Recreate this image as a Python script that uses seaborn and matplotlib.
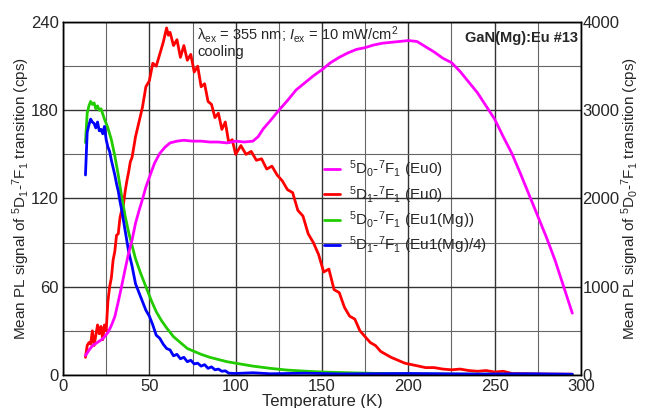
import seaborn as sns
import matplotlib.pyplot as plt
from matplotlib.ticker import MultipleLocator

# temperature (K) and signals
t_mag = [13, 15, 17, 20, 23, 26, 28, 30, 32, 34, 36, 38, 40, 42, 44, 46, 48, 50, 53, 56,
         59, 62, 66, 70, 75, 80, 85, 90, 95, 100, 105, 110, 113, 116, 120, 125, 130, 135,
         140, 145, 150, 155, 160, 165, 170, 175, 180, 185, 190, 195, 200, 205, 210, 215,
         220, 225, 230, 235, 240, 245, 250, 255, 260, 265, 270, 275, 280, 285, 290, 295]
mag_vals = [220, 280, 330, 370, 410, 480, 560, 660, 830, 1010, 1200, 1380, 1530, 1720,
            1860, 1990, 2130, 2240, 2400, 2510, 2580, 2630, 2650, 2660, 2650, 2650, 2640,
            2640, 2630, 2650, 2640, 2650, 2700, 2790, 2880, 3000, 3110, 3230, 3310, 3390,
            3460, 3540, 3600, 3650, 3690, 3710, 3740, 3760, 3770, 3780, 3790, 3780, 3720,
            3660, 3590, 3540, 3440, 3320, 3200, 3050, 2900, 2700, 2510, 2280, 2040, 1800,
            1560, 1300, 1000, 700]

t_red = [13, 14, 15, 16, 17, 18, 19, 20, 21, 22, 23, 24, 25, 26, 27, 28, 29, 30, 31, 32,
         33, 34, 35, 36, 37, 38, 39, 40, 42, 44, 46, 48, 50, 52, 54, 56, 58, 60, 61, 62,
         64, 66, 68, 70, 72, 74, 76, 78, 80, 82, 84, 86, 88, 90, 92, 94, 96, 98, 100, 103,
         106, 109, 112, 115, 118, 121, 124, 127, 130, 133, 136, 139, 142, 145, 148, 151,
         154, 157, 160, 163, 166, 169, 172, 175, 178, 181, 184, 187, 190, 194, 198, 202,
         206, 210, 215, 220, 225, 230, 235, 240, 245, 250, 255, 260, 270, 280, 295]
red_vals = [12, 20, 22, 21, 30, 20, 27, 34, 28, 33, 24, 34, 30, 50, 60, 66, 78, 84, 95, 96,
            107, 112, 116, 125, 132, 138, 145, 148, 162, 172, 182, 196, 200, 212, 210, 218,
            226, 236, 231, 233, 224, 228, 216, 224, 214, 218, 206, 210, 196, 198, 186, 184,
            175, 178, 167, 172, 158, 160, 150, 156, 150, 152, 146, 147, 140, 142, 136, 132,
            126, 124, 112, 108, 96, 90, 82, 70, 72, 58, 56, 46, 40, 38, 30, 26, 22, 20, 16,
            14, 12, 10, 8, 7, 6, 5, 5, 4, 3.5, 4, 3, 2.5, 3, 2, 2.5, 1, 0.8, 0.6, 0.5]

t_green = [13, 14, 15, 16, 17, 18, 19, 20, 21, 22, 24, 26, 28, 30, 32, 34, 36, 38, 40, 42,
           45, 48, 51, 54, 57, 60, 64, 68, 72, 76, 80, 85, 90, 95, 100, 110, 120, 130, 140,
           150, 165, 180, 200, 225, 250, 275, 295]
green_vals = [158, 178, 183, 186, 184, 185, 181, 183, 180, 181, 174, 168, 160, 149, 136,
              121, 108, 97, 88, 79, 69, 60, 51, 43, 37, 32, 26, 22, 18, 16, 14, 12, 10.5,
              9, 8, 6, 4.5, 3.3, 2.6, 2.0, 1.5, 1.1, 0.8, 0.6, 0.5, 0.4, 0.3]

t_blue = [13, 14, 15, 16, 17, 18, 19, 20, 21, 22, 23, 24, 25, 26, 27, 28, 29, 30, 31, 32,
          33, 34, 35, 36, 37, 38, 40, 42, 44, 46, 48, 50, 52, 54, 56, 58, 60, 62, 64, 66,
          68, 70, 72, 74, 76, 78, 80, 82, 84, 86, 88, 90, 92, 94, 96, 100, 110, 120, 140,
          160, 200, 240, 270, 295]
blue_vals = [136, 165, 170, 174, 172, 171, 168, 172, 166, 167, 164, 169, 160, 155, 152,
             146, 141, 136, 130, 125, 118, 112, 105, 98, 91, 84, 74, 62, 56, 50, 44, 40,
             34, 27, 25, 21, 18, 17, 13, 14, 11, 12, 9, 10, 7.5, 8, 6, 7, 4.5, 5.5, 3.5, 4,
             2.5, 2.8, 1.2, 1.0, 1.5, 0.8, 1.2, 0.7, 1.0, 0.6, 0.8, 0.5]

labels = [r'$^\mathregular{5}$D$_\mathregular{0}$-$^\mathregular{7}$F$_\mathregular{1}$ (Eu0)',
          r'$^\mathregular{5}$D$_\mathregular{1}$-$^\mathregular{7}$F$_\mathregular{1}$ (Eu0)',
          r'$^\mathregular{5}$D$_\mathregular{0}$-$^\mathregular{7}$F$_\mathregular{1}$ (Eu1(Mg))',
          r'$^\mathregular{5}$D$_\mathregular{1}$-$^\mathregular{7}$F$_\mathregular{1}$ (Eu1(Mg)/4)']

sns.set_style('white')
plt.rcParams['font.family'] = ['Liberation Sans', 'DejaVu Sans']
plt.rcParams['mathtext.fontset'] = 'custom'
plt.rcParams['mathtext.rm'] = 'Liberation Sans'
plt.rcParams['mathtext.it'] = 'Liberation Sans:italic'

fig = plt.figure(figsize=(6.45, 4.08), dpi=100)
ax = fig.add_axes([0.0977, 0.081, 0.803, 0.865])
ax2 = ax.twinx()

lw = 2.0
sns.lineplot(x=t_red, y=red_vals, ax=ax, color='#ff0000', lw=lw, label=labels[1])
sns.lineplot(x=t_green, y=green_vals, ax=ax, color='#22cc00', lw=lw, label=labels[2])
sns.lineplot(x=t_blue, y=blue_vals, ax=ax, color='#0000ff', lw=lw, label=labels[3])
sns.lineplot(x=t_mag, y=mag_vals, ax=ax2, color='#ff00ff', lw=lw, label=labels[0])

ax.set_xlim(0, 300)
ax.set_ylim(0, 240)
ax2.set_ylim(0, 4000)
ax.xaxis.set_major_locator(MultipleLocator(50))
ax.xaxis.set_minor_locator(MultipleLocator(25))
ax.yaxis.set_major_locator(MultipleLocator(60))
ax.yaxis.set_minor_locator(MultipleLocator(30))
ax2.yaxis.set_major_locator(MultipleLocator(1000))
ax2.yaxis.set_minor_locator(MultipleLocator(500))

# grid: darker on labelled values
ax.grid(True, which='major', color='#333333', lw=1.0)
ax.grid(True, which='minor', color='#666666', lw=0.8)
ax.set_axisbelow(True)
for a in (ax, ax2):
    for s in a.spines.values():
        s.set_color('black')
        s.set_linewidth(1.0)
ax.tick_params(which='both', length=0, labelsize=12, pad=3)
ax2.tick_params(which='both', length=0, labelsize=12, pad=1)

ax.set_xlabel('Temperature (K)', fontsize=12, labelpad=0)
ax.set_ylabel(r'Mean PL signal of $^\mathregular{5}$D$_\mathregular{1}$-$^\mathregular{7}$F$_\mathregular{1}$ transition (cps)', fontsize=11)
ax2.set_ylabel(r'Mean PL signal of $^\mathregular{5}$D$_\mathregular{0}$-$^\mathregular{7}$F$_\mathregular{1}$ transition (cps)', fontsize=11)
ax.yaxis.set_label_coords(-0.06, 0.5)
ax2.yaxis.set_label_coords(1.075, 0.5)

ax.text(0.259, 0.995, r'λ$_\mathregular{ex}$ = 355 nm; $I_\mathregular{ex}$ = 10 mW/cm$^\mathregular{2}$' + '\ncooling',
        transform=ax.transAxes, ha='left', va='top', fontsize=10.5, linespacing=1.0)
ax.text(0.994, 0.975, 'GaN(Mg):Eu #13', transform=ax.transAxes, ha='right', va='top',
        fontsize=10.5, fontweight='bold')

h1, l1 = ax.get_legend_handles_labels()
h2, l2 = ax2.get_legend_handles_labels()
ax.get_legend().remove()
ax2.legend(h2 + h1, l2 + l1, loc='upper left', bbox_to_anchor=(0.49, 0.635), frameon=False,
           fontsize=11, handlelength=1.0, handletextpad=0.6, labelspacing=0.25, borderpad=0)

plt.savefig('out.png', dpi=100)
